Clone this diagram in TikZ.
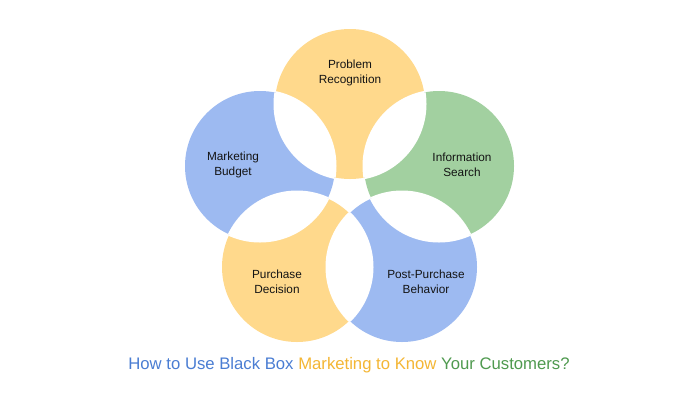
\documentclass[tikz,border=0pt]{standalone}
\usepackage{fontspec}
\setmainfont{Liberation Sans}
\definecolor{cyel}{HTML}{FFD98C}
\definecolor{cblue}{HTML}{9DBAF1}
\definecolor{cgreen}{HTML}{A2D0A0}
\definecolor{tblue}{HTML}{4A7DD3}
\definecolor{torange}{HTML}{F4B634}
\definecolor{tgreen}{HTML}{4F9A4F}
\definecolor{ink}{HTML}{141414}
\begin{document}
\begin{tikzpicture}[x=1pt,y=-1pt,
  lbl/.style={align=center,text=ink,font=\fontsize{11.8}{14.5}\selectfont,inner sep=0pt},
  gap/.style={white,line width=3pt}]
\useasboundingbox (0,0) rectangle (698,400);
\fill[white] (0,0) rectangle (698,400);
\def\rr{75}
\coordinate (A) at (350,104);
\coordinate (B) at (439,166);
\coordinate (C) at (402,267);
\coordinate (D) at (297,267);
\coordinate (E) at (260,166);
\fill[cyel] (A) circle (\rr);
\fill[cgreen] (B) circle (\rr);
\fill[cblue] (C) circle (\rr);
\fill[cyel] (D) circle (\rr);
\fill[cblue] (E) circle (\rr);
\foreach \p/\q in {A/B,B/C,C/D,D/E,E/A}{
  \begin{scope}
    \clip (\p) circle (\rr);
    \fill[white] (\q) circle (\rr);
    \draw[gap] (\q) circle (\rr);
  \end{scope}
  \begin{scope}
    \clip (\q) circle (\rr);
    \draw[gap] (\p) circle (\rr);
  \end{scope}
}
\node[lbl] (tA) at (350,73) {Problem\\Recognition};
\node[lbl] (tB) at (462,165) {Information\\Search};
\node[lbl] (tC) at (426,282) {Post-Purchase\\Behavior};
\node[lbl] (tD) at (277,282) {Purchase\\Decision};
\node[lbl] (tE) at (233,165) {Marketing\\Budget};
\node[inner sep=0pt,font=\fontsize{16.7}{20}\selectfont] (title) at (349,365)
  {\textcolor{tblue}{How to Use Black Box} \textcolor{torange}{Marketing to Know} \textcolor{tgreen}{Your Customers?}};
\end{tikzpicture}
\end{document}
